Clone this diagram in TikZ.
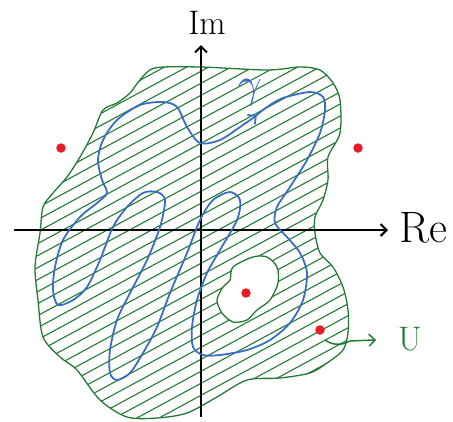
\documentclass[tikz,border=0pt]{standalone}
\usepackage{tikz}
\usetikzlibrary{arrows.meta, calc, positioning, decorations.markings}
\usepackage{xcolor}
\definecolor{ugreen}{RGB}{36,122,52}
\definecolor{gblue}{RGB}{58,110,196}
\definecolor{pred}{RGB}{232,28,36}

\begin{document}
\begin{tikzpicture}[x=1pt, y=-1pt,
    barb/.style={-{Straight Barb[length=6pt, width=12pt]}},
    pole/.style={circle, fill=pred, inner sep=0pt, minimum size=9.5pt},
    axislabel/.style={inner sep=0pt, font=\fontsize{34}{34}\selectfont}]
  \useasboundingbox (0,0) rectangle (453,421);

  % the open set U and the hole in it
  \def\regionU{plot[smooth cycle] coordinates {(155,68) (200,67) (267,70) (300,67)
    (320,70) (333,83) (340,100) (340,133) (328,157) (328,180) (323,200) (315,217)
    (315,233) (320,253) (333,267) (343,287) (348,310) (348,333) (343,350) (327,363)
    (310,373) (280,378) (247,380) (217,397) (187,413) (157,418) (127,417) (100,400)
    (77,370) (60,357) (43,337) (38,300) (35,267) (40,233) (43,207) (53,193) (67,177)
    (80,157) (93,133) (103,110) (117,103) (130,93) (140,80)}}
  \def\holeU{plot[smooth cycle] coordinates {(233,267) (253,257) (267,257) (277,267)
    (278,283) (270,300) (257,310) (247,320) (233,322) (222,313) (217,300) (223,287)
    (230,280)}}

  % hatching
  \begin{scope}
    \clip \regionU;
    \foreach \c in {0,12,...,708}
      \draw[ugreen, line width=1.1pt] (0,\c) -- (453,\c-245);
  \end{scope}
  \fill[white] \holeU;
  \draw[ugreen, line width=1.3pt] \holeU;
  \draw[ugreen, line width=1.3pt] \regionU;

  % axes
  \coordinate (ybot) at (201,417);
  \coordinate (ytop) at (201,45);
  \coordinate (xleft) at (14,230);
  \coordinate (xright) at (388,230);
  \draw[barb, line width=2pt] (ybot) -- (ytop);
  \draw[barb, line width=2pt] (xleft) -- (xright);
  \node[axislabel] (im) at (207,23) {Im};
  \node[axislabel, font=\fontsize{44}{44}\selectfont] (re) at (423,228) {Re};

  % the curve gamma
  \draw[gblue, line width=1.8pt, postaction={decorate},
    decoration={markings, mark=at position 0.028 with
      {\arrow{Straight Barb[length=6pt, width=12pt]}}}]
    plot[smooth cycle, tension=0.5] coordinates {(200,143) (220,140) (240,127)
    (253,118) (267,107) (283,98) (310,92) (323,97) (325,110) (320,133) (307,160)
    (290,187) (277,207) (275,223) (287,237) (300,253) (307,273) (303,300) (290,323)
    (270,340) (247,350) (220,355) (203,355) (193,347) (192,327) (197,300) (207,273)
    (220,250) (237,220) (240,200) (230,192) (213,200) (200,220) (187,253) (170,293)
    (157,327) (143,353) (130,373) (117,380) (110,373) (110,350) (117,320) (130,293)
    (147,260) (160,227) (165,200) (157,192) (143,193) (127,207) (113,227) (100,260)
    (87,287) (73,300) (58,305) (53,290) (55,267) (63,240) (80,217) (97,203) (107,193)
    (102,180) (98,160) (103,140) (117,120) (140,105) (163,102) (177,107) (187,127)};
  \node[text=gblue, inner sep=0pt, scale=4.2] (gamma) at (250,93) {$\gamma$};

  % poles
  \node[pole] (p1) at (61,148) {};
  \node[pole] (p2) at (358,148) {};
  \node[pole] (p3) at (246,293) {};
  \node[pole] (p4) at (320,330) {};

  % label of U
  \node[text=ugreen, inner sep=0pt, font=\fontsize{34}{34}\selectfont]
    (ulabel) at (410,339) {U};
  \coordinate (ustart) at (325,340);
  \draw[ugreen, barb, line width=1.5pt, shorten >=22pt]
    (ustart) .. controls (333,346) and (343,345) .. (350,341) -- (ulabel.west);
\end{tikzpicture}
\end{document}
